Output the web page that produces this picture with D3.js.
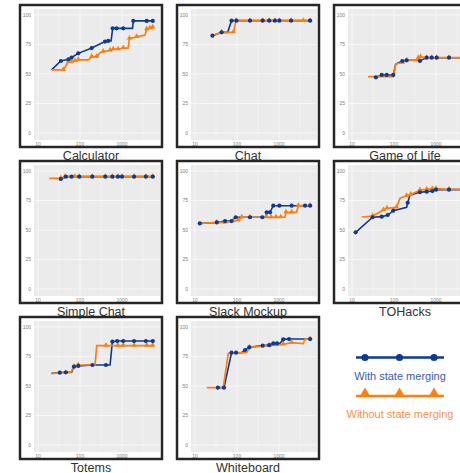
<!DOCTYPE html>
<html>
<head>
<meta charset="utf-8">
<script src="https://cdn.jsdelivr.net/npm/d3@7"></script>
<style>
  body { margin: 0; background: #fff; }
  svg { display: block; font-family: "Liberation Sans", Arial, sans-serif; }
</style>
</head>
<body>
<svg width="460" height="473"></svg>
<script>
// [time, coverage, marker?]  (third value 0 = line vertex only, no marker)
const titles = ["Calculator", "Chat", "Game of Life", "Simple Chat", "Slack Mockup", "TOHacks", "Totems", "Whiteboard"]

const calculator_merged = [[21,53.5,0],[35,61],[53,62.5],[63,64],[91,67.5],[190,72],[394,77.5],[470,78],[550,78,0],[600,88.7],[745,88.7],[1070,88.7],[1780,88.7,0],[1860,95],[3880,95],[5400,95]]
const calculator_plain = [[21,53.5,0],[40,53.5],[53,60.5],[63,60.5],[76,61],[91,62],[160,62,0],[190,64.7],[250,64.7],[300,68,0],[357,69],[520,70],[620,71],[805,71],[1070,72],[1400,72,0],[1500,80],[2240,81.5],[3530,83,0],[3880,88],[4640,88.7],[5400,89.5]]

const chat_merged = [[26,82.5],[43,85.3],[60,85.3,0],[74,95.2],[97,95.2],[204,95.2],[408,95.2],[584,95.2],[800,95.2],[1020,95.2],[1940,95.2],[5500,95.2]]
const chat_plain = [[24,82.2,0],[43,85.3],[82,85.3],[95,95.2],[204,95.2],[408,95.2],[584,95.2],[800,95.2],[1020,95.2],[1940,95.2],[3800,95.2],[5500,95.2]]

const life_merged = [[37,47.2],[51,49.2],[67,49.2],[96,49.2],[110,58.5,0],[158,61],[200,61.6],[380,61.6,0],[415,61],[460,62,0],[600,63.8],[790,63.8],[1040,63.8],[2040,63.8],[5500,63.8]]
const life_plain = [[24,47.7,0],[96,47.7,0],[110,58.5,0],[158,59.5],[200,61.6],[350,61.6,0],[380,63.5],[430,64.5],[600,63.8],[790,63.8],[1040,63.8],[2040,63.8],[5500,63.8]]

const simple_merged = [[35,93.2],[46,95.2],[63,95.2],[96,95.2],[196,95.2],[400,95.2],[590,95.2],[800,95.2],[1000,95.2],[1940,95.2],[3700,95.2],[5400,95.2]]
const simple_plain = [[18.6,93.8,0],[35,93.8],[44,95.2],[75,95.2],[96,95.2],[196,95.2],[400,95.2],[590,95.2],[800,95.2],[1000,95.2],[1940,95.2],[3700,95.2],[5400,95.2]]

const slack_merged = [[13,55.6],[33,56.4],[52,57.6],[74,57.6],[93,60.8],[204,60.8],[400,60.8],[490,60.8,0],[510,65],[610,65],[730,70.6],[1020,70.6],[2000,70.6],[4170,70.6],[5500,70.6]]
const slack_plain = [[13,55.6,0],[33,56.4],[52,56.4],[80,57.4],[107,58.2],[130,60.8],[204,60.8],[510,60.8],[650,60.8],[850,60.8],[1100,60.8],[1380,60.8,0],[1470,65],[2000,65],[2630,65,0],[2880,70.6],[5500,70.6]]

const tohacks_merged = [[12.2,48],[31,60.8],[51,61.3],[71,62.7],[96,66.4],[200,69.2,0],[212,73.1],[240,79.7,0],[415,82],[600,82.5],[820,83],[1000,84.2],[2040,84.2],[5500,84.2]]
const tohacks_plain = [[17,61,0],[31,61.8],[56,67],[68,68.4],[115,69.2],[139,76.9,0],[200,79],[250,80],[415,83.9],[600,84.4],[820,85],[1000,85],[2040,84.5],[5500,84.5]]

const totems_merged = [[21,60.7,0],[33,61.3],[46,61.6],[63,61.6,0],[72,66.4],[91,67],[198,67.8],[415,67.8],[520,67.8,0],[590,87.6],[770,88.1],[1070,88.1],[1940,88.1],[3700,88.1],[5400,88.1]]
const totems_plain = [[21,60.7,0],[60,61.6,0],[72,66.4],[91,67.8],[228,67.8,0],[250,84.2,0],[415,84.2],[800,84.2],[1070,84.2],[1940,84.2],[3880,84.2],[5400,84.2]]

const white_merged = [[35,48.6],[49,48.6],[74,78.2],[95,78.2],[129,78.2,0],[155,80.5],[196,82.8],[408,84.2],[584,84.6],[730,86.1],[900,86.1],[1050,86.1,0],[1260,89.5],[1730,89.8],[5500,89.8]]
const white_plain = [[19,48.6,0],[47,48.6,0],[62,77.7,0],[170,78.5,0],[200,82.8],[584,84.2],[1260,85.3],[2000,86.7],[3800,86,0],[4170,89.8,0],[5500,89.8]]

const merged = [calculator_merged, chat_merged, life_merged, simple_merged, slack_merged, tohacks_merged, totems_merged, white_merged]
const plain = [calculator_plain, chat_plain, life_plain, simple_plain, slack_plain, tohacks_plain, totems_plain, white_plain]

const y_ticks = [0, 25, 50, 75, 100]
const x_ticks = [10, 100, 1000]
const x_minor = [3.16, 31.6, 316, 3162]
const legend_labels = ["With state merging", "Without state merging"]

const blue = "#0d3a94"
const orange = "#ff7f0e"
const cols = [20, 177, 334]
const rows = [5, 161, 317]
const size = 142

let svg = d3.select("svg")
svg.append("rect").attr("width", 460).attr("height", 473).attr("fill", "white")

let tri = d3.symbol(d3.symbolTriangle, 12)

titles.forEach((title, i) => {
  let px = cols[i % 3]
  let py = rows[Math.floor(i / 3)]
  let x = d3.scaleLog([10, 1000], [px + 18, px + 102])
  let y = d3.scaleLinear([0, 100], [py + 128, py + 10])
  let g = svg.append("g")

  // panel background
  g.append("rect")
    .attr("x", px + 14).attr("y", py + 4)
    .attr("width", 126).attr("height", 131)
    .attr("fill", "#ebebeb")

  g.selectAll(".minor").data(x_minor.filter(d => x(d) > px + 14 && x(d) < px + 140)).join("line")
    .attr("x1", d => x(d)).attr("x2", d => x(d))
    .attr("y1", py + 4).attr("y2", py + 135)
    .attr("stroke", "#f6f6f6").attr("stroke-width", 0.5)
  g.selectAll(".hgrid").data(y_ticks).join("line")
    .attr("x1", px + 14).attr("x2", px + 140)
    .attr("y1", d => y(d)).attr("y2", d => y(d))
    .attr("stroke", "#fafafa").attr("stroke-width", 0.8)
  g.selectAll(".vgrid").data(x_ticks).join("line")
    .attr("x1", d => x(d)).attr("x2", d => x(d))
    .attr("y1", py + 4).attr("y2", py + 135)
    .attr("stroke", "#fafafa").attr("stroke-width", 0.8)

  // tick labels
  g.selectAll(".ylab").data(y_ticks).join("text")
    .attr("x", px + 11).attr("y", d => y(d)).attr("dy", "0.35em")
    .attr("text-anchor", "end").attr("font-size", 5).attr("fill", "#808080")
    .text(d => d)
  g.selectAll(".xlab").data(x_ticks).join("text")
    .attr("x", d => x(d)).attr("y", py + 139).attr("dy", "0.35em")
    .attr("text-anchor", "middle").attr("font-size", 5).attr("fill", "#808080")
    .text(d => d)

  let line = d3.line().x(d => x(d[0])).y(d => y(d[1]))
  g.append("path").attr("d", line(merged[i]))
    .attr("fill", "none").attr("stroke", blue).attr("stroke-width", 1.6)
  g.append("path").attr("d", line(plain[i]))
    .attr("fill", "none").attr("stroke", orange).attr("stroke-width", 1.7)

  g.selectAll(".tri").data(plain[i].filter(d => d[2] !== 0)).join("path")
    .attr("d", tri)
    .attr("transform", d => `translate(${x(d[0])},${y(d[1]) - 0.5})`)
    .attr("fill", orange)
  g.selectAll(".dot").data(merged[i].filter(d => d[2] !== 0)).join("circle")
    .attr("cx", d => x(d[0])).attr("cy", d => y(d[1])).attr("r", 2.1)
    .attr("fill", blue)

  g.append("rect")
    .attr("x", px).attr("y", py)
    .attr("width", size).attr("height", size)
    .attr("fill", "none").attr("stroke", "#262626").attr("stroke-width", 2.5)

  g.append("text")
    .attr("x", px + 71).attr("y", py + 154.5)
    .attr("text-anchor", "middle").attr("font-size", 12.5).attr("fill", "#333")
    .text(title)
})

// legend
const lx = d3.scalePoint([0, 1, 2], [365, 434])
let leg = svg.append("g")
leg.append("line").attr("x1", 356).attr("x2", 444).attr("y1", 357.5).attr("y2", 357.5)
  .attr("stroke", blue).attr("stroke-width", 2.5)
leg.selectAll(".ld").data([0, 1, 2]).join("circle")
  .attr("cx", d => lx(d)).attr("cy", 357.5).attr("r", 3.6).attr("fill", blue)
leg.append("text").attr("x", 400).attr("y", 380).attr("text-anchor", "middle")
  .attr("font-size", 11).attr("fill", "#3d5db5").text(legend_labels[0])
leg.append("line").attr("x1", 356).attr("x2", 444).attr("y1", 396).attr("y2", 396)
  .attr("stroke", orange).attr("stroke-width", 2.5)
leg.selectAll(".lt").data([0, 1, 2]).join("path")
  .attr("d", d3.symbol(d3.symbolTriangle, 48))
  .attr("transform", d => `translate(${lx(d)},${393.5})`).attr("fill", orange)
leg.append("text").attr("x", 346.5).attr("y", 418).attr("text-anchor", "start")
  .attr("font-size", 11).attr("fill", "#f7943c").text(legend_labels[1])
</script>
</body>
</html>
